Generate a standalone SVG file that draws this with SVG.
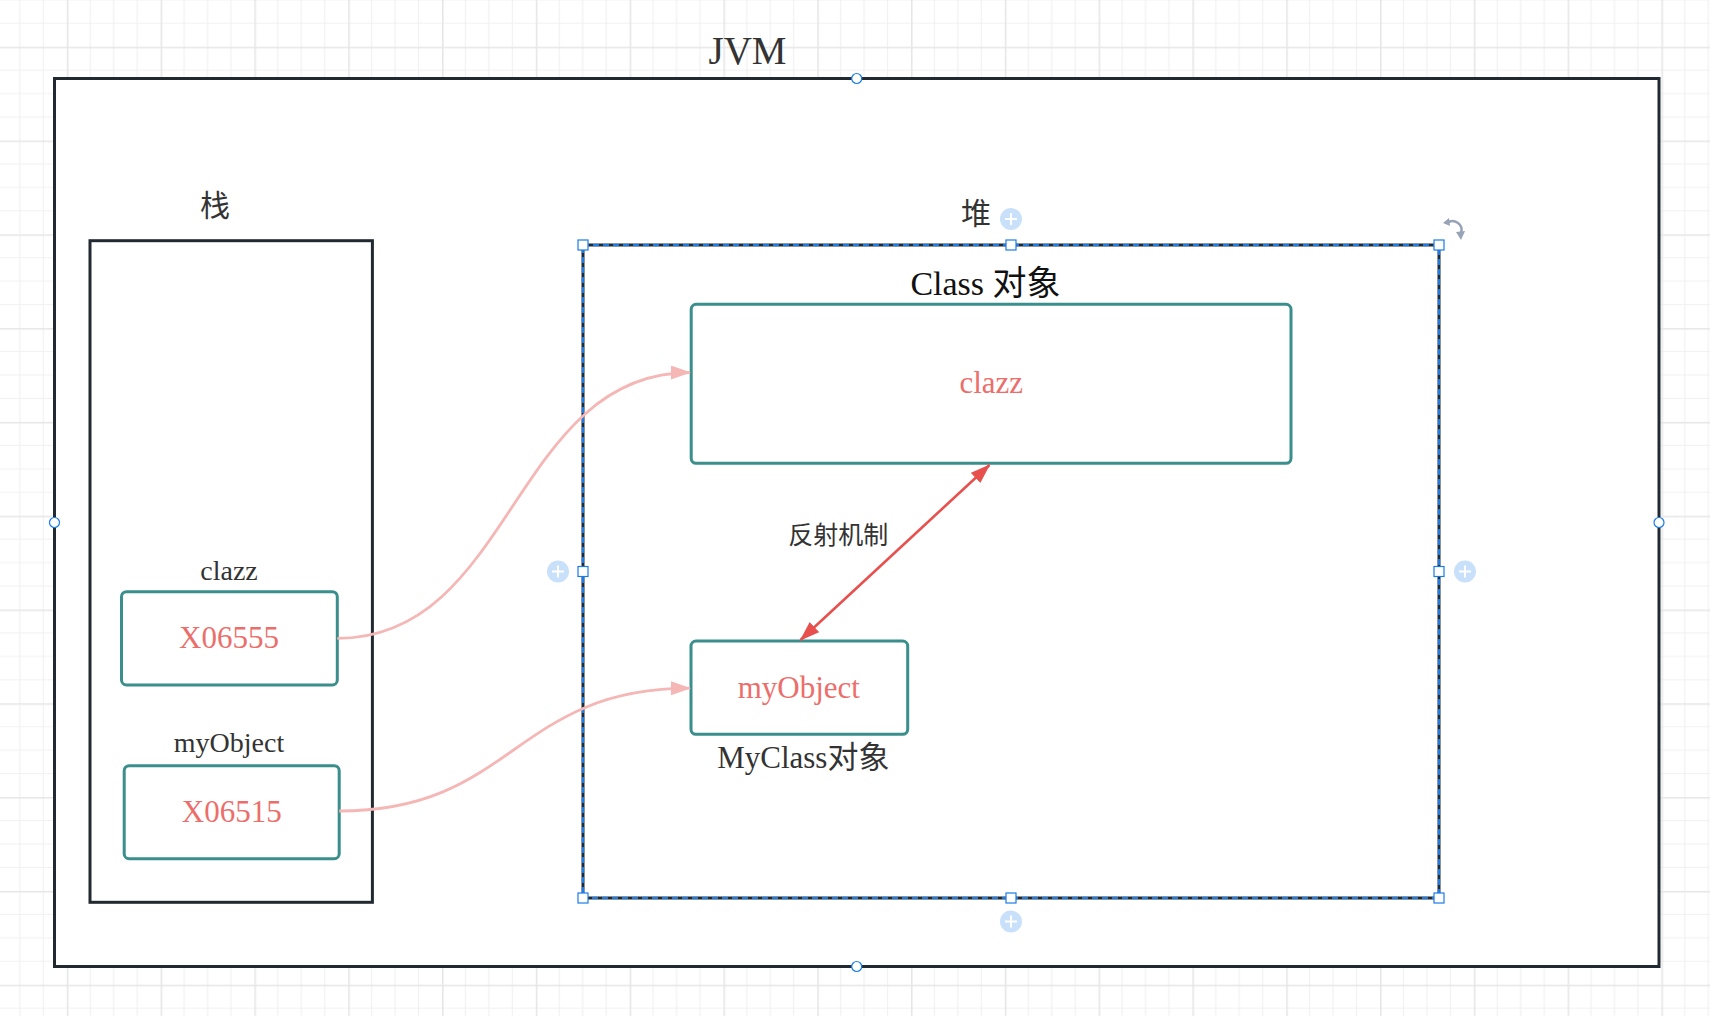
<svg xmlns="http://www.w3.org/2000/svg" width="1710" height="1016" viewBox="0 0 1710 1016">
<style>
.box{fill:#fff;stroke:#222a31;stroke-width:3}
.node{fill:#fff;stroke:#3a8e8c;stroke-width:3}
.lbl{font-family:"Liberation Serif","Noto Sans CJK SC",serif;fill:#333;text-anchor:middle}
.red{font-family:"Liberation Serif","Noto Sans CJK SC",serif;fill:#ec6e6b;text-anchor:middle}
.cjk{font-family:"Noto Sans CJK SC","Noto Sans",sans-serif;fill:#333;text-anchor:middle}
.pink{fill:none;stroke:#f5b7b5;stroke-width:2.8}
.redline{fill:none;stroke:#e8504e;stroke-width:2.6}
.handle{fill:#fff;stroke:#1a7ce8;stroke-width:1.2}
.plus{fill:#c9e0fb}
.plusmark{stroke:#fff;stroke-width:2}
</style>
<defs>
<pattern id="grid" x="66.8" y="46.7" width="93.8" height="93.8" patternUnits="userSpaceOnUse">
<path d="M23.45 0V93.8M46.9 0V93.8M70.35 0V93.8M0 23.45H93.8M0 46.9H93.8M0 70.35H93.8" stroke="#f1f1f1" stroke-width="1.2" fill="none"/>
<path d="M0.75 0V93.8M0 0.75H93.8" stroke="#e6e6e6" stroke-width="1.6" fill="none"/>
</pattern>
<marker id="pinkHead" markerUnits="userSpaceOnUse" markerWidth="22" markerHeight="16" refX="19" refY="7" orient="auto">
<path d="M0 0L20 7L0 14z" fill="#f5b7b5"/>
</marker>
<marker id="redHead" markerUnits="userSpaceOnUse" markerWidth="22" markerHeight="16" refX="19" refY="7" orient="auto-start-reverse">
<path d="M0 0L20 7L0 14z" fill="#e8504e"/>
</marker>
</defs>
<rect x="0" y="0" width="1710" height="1016" fill="#fff"/>
<rect x="0" y="0" width="1710" height="1016" fill="url(#grid)"/>

<g id="jvm">
<rect class="box" x="54.5" y="78.5" width="1604.5" height="888"/>
<text class="lbl" x="747.5" y="64" font-size="39">JVM</text>
</g>

<g id="stack">
<rect class="box" x="90" y="240.7" width="282.4" height="661.6"/>
<text class="cjk" x="215" y="216" font-size="30">栈</text>
</g>

<g id="heap">
<rect x="583" y="245" width="856" height="653" fill="#fff" stroke="#222a31" stroke-width="3"/>
<rect x="583" y="245" width="856" height="653" fill="none" stroke="#1a7ce8" stroke-width="2" stroke-dasharray="6 4"/>
<text class="cjk" x="976" y="224" font-size="30">堆</text>
</g>

<g id="stack-clazz">
<text class="lbl" x="229" y="580" font-size="28">clazz</text>
<rect class="node" x="121.5" y="591.7" width="215.8" height="93.3" rx="5"/>
<text class="red" x="229" y="648.3" font-size="31">X06555</text>
</g>

<g id="stack-myobject">
<text class="lbl" x="229" y="752.3" font-size="28">myObject</text>
<rect class="node" x="124.2" y="765.7" width="215" height="93" rx="5"/>
<text class="red" x="231.7" y="821.7" font-size="31">X06515</text>
</g>

<g id="class-object">
<text class="lbl" x="985.5" y="295" font-size="34" style="fill:#111">Class 对象</text>
<rect class="node" x="691.2" y="304.3" width="599.8" height="159" rx="5"/>
<text class="red" x="991.3" y="393.3" font-size="31">clazz</text>
</g>

<g id="myclass-object">
<rect class="node" x="691" y="641" width="216.7" height="93.3" rx="5"/>
<text class="red" x="798.8" y="697.7" font-size="31">myObject</text>
<text class="lbl" x="803.3" y="768.3" font-size="31">MyClass对象</text>
</g>

<g id="connectors">
<path class="pink" d="M337.3 638.4C513 638.4 513 372.5 690 372.5" marker-end="url(#pinkHead)"/>
<path class="pink" d="M339.2 811C514 811 514 688.2 690 688.2" marker-end="url(#pinkHead)"/>
<path class="redline" d="M800.5 640L989.5 465" marker-start="url(#redHead)" marker-end="url(#redHead)"/>
<text class="cjk" x="838.3" y="544" font-size="25">反射机制</text>
</g>

<g id="selection">
<circle class="handle" cx="856.7" cy="78.5" r="5"/>
<circle class="handle" cx="856.7" cy="966.5" r="5"/>
<circle class="handle" cx="54.5" cy="522.5" r="5"/>
<circle class="handle" cx="1659" cy="522.5" r="5"/>
<rect class="handle" x="578" y="240" width="10" height="10"/>
<rect class="handle" x="1006" y="240" width="10" height="10"/>
<rect class="handle" x="1434" y="240" width="10" height="10"/>
<rect class="handle" x="578" y="566.5" width="10" height="10"/>
<rect class="handle" x="1434" y="566.5" width="10" height="10"/>
<rect class="handle" x="578" y="893" width="10" height="10"/>
<rect class="handle" x="1006" y="893" width="10" height="10"/>
<rect class="handle" x="1434" y="893" width="10" height="10"/>
<circle class="plus" cx="1011" cy="219" r="11"/>
<path class="plusmark" d="M1005 219H1017M1011 213V225"/>
<circle class="plus" cx="558" cy="571.5" r="11"/>
<path class="plusmark" d="M552 571.5H564M558 565.5V577.5"/>
<circle class="plus" cx="1465" cy="571.5" r="11"/>
<path class="plusmark" d="M1459 571.5H1471M1465 565.5V577.5"/>
<circle class="plus" cx="1011" cy="921.5" r="11"/>
<path class="plusmark" d="M1005 921.5H1017M1011 915.5V927.5"/>
<path d="M1447 223A9 9 0 0 1 1461 233" fill="none" stroke="#97a3b6" stroke-width="2.5"/>
<path d="M1456 232L1461 240L1465 231z" fill="#97a3b6"/>
<path d="M1443 223L1449 218L1450 226z" fill="#97a3b6"/>
</g>
</svg>
